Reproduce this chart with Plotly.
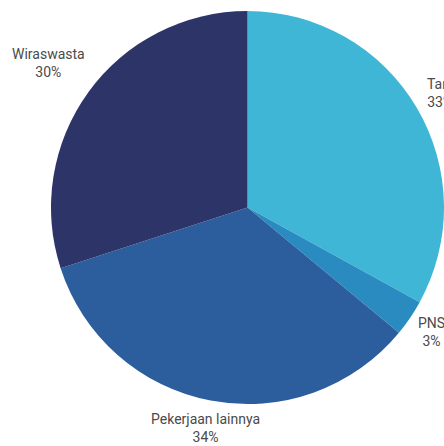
import math
import plotly.graph_objects as go

# Occupation shares (percent)
categories = ["Tani", "PNS", "Pekerjaan lainnya", "Wiraswasta"]
shares = [33, 3, 34, 30]
colors = ["#40B6D6", "#2A8BC0", "#2C5E9E", "#2D3468"]

# How far each label sits from the centre, relative to the pie radius
label_radius = [1.14, 1.13, 1.14, 1.25]

fig = go.Figure(
    go.Pie(
        labels=categories,
        values=shares,
        sort=False,
        direction="clockwise",
        rotation=0,
        textinfo="none",
        hoverinfo="label+percent",
        marker=dict(colors=colors, line=dict(width=0)),
        showlegend=False,
        domain=dict(x=[0, 1], y=[0, 1]),
    )
)

# Outside labels placed along each slice's mid-angle
total = sum(shares)
cum = 0.0
for name, val, k in zip(categories, shares, label_radius):
    mid = (cum + val / 2) / total * 2 * math.pi
    cum += val
    x = 0.5 + 0.5 * k * math.sin(mid)
    y = 0.5 + 0.5 * k * math.cos(mid)
    fig.add_annotation(
        x=x, y=y, xref="paper", yref="paper",
        text=f"{name}<br>{round(val / total * 100)}%",
        showarrow=False,
        xanchor="center", yanchor="middle",
        font=dict(family="Roboto, sans-serif", size=14, color="#4a4a4a"),
    )

fig.update_layout(
    width=444,
    height=446,
    margin=dict(l=51, r=0, t=11, b=42),
    paper_bgcolor="white",
    plot_bgcolor="white",
)

fig.write_html("out.html")
